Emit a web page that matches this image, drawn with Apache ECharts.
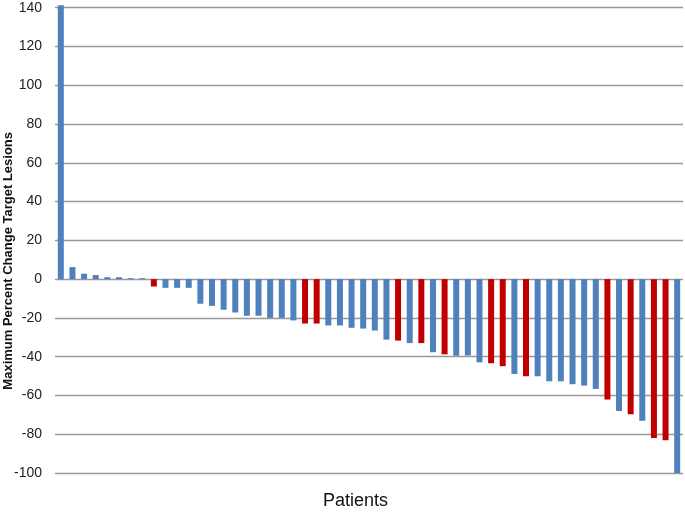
<!DOCTYPE html>
<html>
<head>
<meta charset="utf-8">
<script src="https://cdn.jsdelivr.net/npm/echarts@6/dist/echarts.min.js"></script>
<style>html,body{margin:0;padding:0;background:#fff}#c{width:685px;height:513px}</style>
</head>
<body>
<div id="c"></div>
<script>
const patients = ['1','2','3','4','5','6','7','8','9','10','11','12','13','14','15','16','17','18','19','20','21','22','23','24','25','26','27','28','29','30','31','32','33','34','35','36','37','38','39','40','41','42','43','44','45','46','47','48','49','50','51','52','53','54'];
const maxPercentChange = [141.3, 6.2, 2.8, 2.1, 1.0, 1.0, 0.5, 0.5, -3.8, -4.5, -4.5, -4.5, -12.7, -13.8, -15.8, -17.2, -18.9, -18.9, -20.0, -20.0, -21.3, -22.9, -22.9, -23.9, -23.9, -25.1, -25.5, -26.5, -31.2, -31.7, -33.0, -33.0, -37.7, -38.8, -39.5, -39.4, -42.9, -43.4, -44.9, -48.9, -50.1, -50.1, -52.7, -52.7, -54.2, -54.9, -56.6, -62.1, -68.0, -69.7, -73.0, -81.9, -83.1, -100.0];
const highlightedPatients = ['9','22','23','30','32','34','38','39','41','48','50','52','53'];
const yTicks = { min: -100, max: 140, interval: 20 };

const BLUE = '#4F81BD', RED = '#C00000';
const chart = echarts.init(document.getElementById('c'), null, { renderer: 'canvas' });
chart.setOption({
  animation: false,
  grid: { left: 55, right: 2, top: 7.7, bottom: 40, containLabel: false },
  xAxis: {
    type: 'category', data: patients,
    axisLine: { show: false }, axisTick: { show: false }, axisLabel: { show: false },
    splitLine: { show: false }
  },
  yAxis: {
    type: 'value', min: yTicks.min, max: yTicks.max, interval: yTicks.interval,
    axisLine: { show: false }, axisTick: { show: false },
    axisLabel: { color: '#222', fontSize: 14, fontFamily: 'Liberation Sans', margin: 13 },
    splitLine: { lineStyle: { color: '#999', width: 1.3 } }
  },
  series: [{
    type: 'bar', barWidth: 6, clip: false,
    data: maxPercentChange.map((v, i) => ({
      value: v,
      itemStyle: { color: highlightedPatients.includes(patients[i]) ? RED : BLUE }
    }))
  }],
  graphic: [
    { type: 'text', left: 2, top: 132, rotation: Math.PI / 2, style: {
        text: 'Maximum Percent Change Target Lesions', fill: '#111',
        font: 'bold 13px "Liberation Sans"' } },
    { type: 'text', left: 323, top: 492, style: {
        text: 'Patients', fill: '#111', font: '18px "Liberation Sans"' } }
  ]
});
</script>
</body>
</html>
